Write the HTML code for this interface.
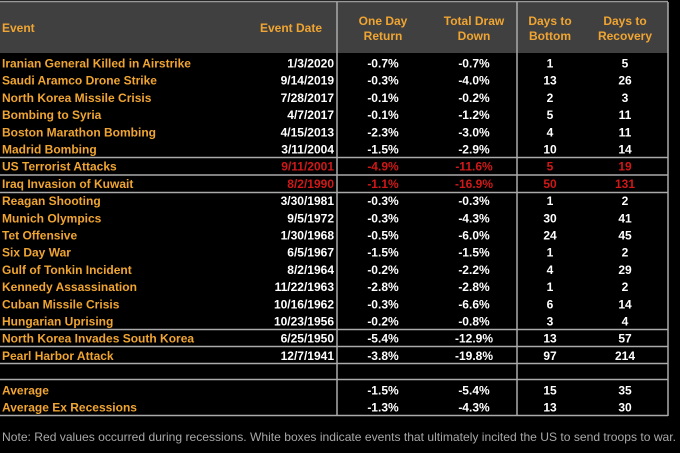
<!DOCTYPE html>
<html><head><meta charset="utf-8"><style>
html,body{margin:0;padding:0;background:#000;}
svg{display:block}
text{font-family:"Liberation Sans",Arial,sans-serif;font-weight:bold;font-size:12px;}
.o{fill:#f0a532}.w{fill:#fff}.r{fill:#d01818}
.n{font-weight:normal;fill:#a8a8a8;font-size:12px}
</style></head><body>
<svg width="680" height="453" viewBox="0 0 680 453" xmlns="http://www.w3.org/2000/svg">
<rect width="680" height="453" fill="#000"/>
<rect x="0" y="2" width="668" height="51" fill="#404040"/>
<line x1="0" y1="1.5" x2="668" y2="1.5" stroke="#999" stroke-width="1.5"/>
<g stroke="#aaa" stroke-width="1.5">
<line x1="337" y1="2" x2="337" y2="416"/>
<line x1="517" y1="2" x2="517" y2="416"/>
<line x1="668" y1="2" x2="668" y2="416"/>
<line x1="0" y1="157.5" x2="668" y2="157.5"/>
<line x1="0" y1="175" x2="668" y2="175"/>
<line x1="0" y1="192.5" x2="668" y2="192.5"/>
<line x1="0" y1="329.5" x2="668" y2="329.5"/>
<line x1="0" y1="346.5" x2="668" y2="346.5"/>
<line x1="0" y1="363.5" x2="668" y2="363.5"/>
<line x1="0" y1="379.5" x2="668" y2="379.5"/>
<line x1="0" y1="415.5" x2="668" y2="415.5"/>
</g>
<text class="o" x="2" y="32">Event</text>
<text class="o" x="322" y="32" text-anchor="end">Event Date</text>
<text class="o" x="383" y="25" text-anchor="middle">One Day</text>
<text class="o" x="383" y="40" text-anchor="middle">Return</text>
<text class="o" x="474" y="25" text-anchor="middle">Total Draw</text>
<text class="o" x="474" y="40" text-anchor="middle">Down</text>
<text class="o" x="550" y="25" text-anchor="middle">Days to</text>
<text class="o" x="550" y="40" text-anchor="middle">Bottom</text>
<text class="o" x="625" y="25" text-anchor="middle">Days to</text>
<text class="o" x="625" y="40" text-anchor="middle">Recovery</text>
<g id="rows"></g>
<text class="n" x="2" y="441" textLength="674" lengthAdjust="spacingAndGlyphs">Note: Red values occurred during recessions. White boxes indicate events that ultimately incited the US to send troops to war.</text>
</svg>
<script>
var d=[["Iranian General Killed in Airstrike","1/3/2020","-0.7%","-0.7%","1","5"],
["Saudi Aramco Drone Strike","9/14/2019","-0.3%","-4.0%","13","26"],
["North Korea Missile Crisis","7/28/2017","-0.1%","-0.2%","2","3"],
["Bombing to Syria","4/7/2017","-0.1%","-1.2%","5","11"],
["Boston Marathon Bombing","4/15/2013","-2.3%","-3.0%","4","11"],
["Madrid Bombing","3/11/2004","-1.5%","-2.9%","10","14"],
["US Terrorist Attacks","9/11/2001","-4.9%","-11.6%","5","19",1],
["Iraq Invasion of Kuwait","8/2/1990","-1.1%","-16.9%","50","131",1],
["Reagan Shooting","3/30/1981","-0.3%","-0.3%","1","2"],
["Munich Olympics","9/5/1972","-0.3%","-4.3%","30","41"],
["Tet Offensive","1/30/1968","-0.5%","-6.0%","24","45"],
["Six Day War","6/5/1967","-1.5%","-1.5%","1","2"],
["Gulf of Tonkin Incident","8/2/1964","-0.2%","-2.2%","4","29"],
["Kennedy Assassination","11/22/1963","-2.8%","-2.8%","1","2"],
["Cuban Missile Crisis","10/16/1962","-0.3%","-6.6%","6","14"],
["Hungarian Uprising","10/23/1956","-0.2%","-0.8%","3","4"],
["North Korea Invades South Korea","6/25/1950","-5.4%","-12.9%","13","57"],
["Pearl Harbor Attack","12/7/1941","-3.8%","-19.8%","97","214"],
null,
["Average","","-1.5%","-5.4%","15","35"],
["Average Ex Recessions","","-1.3%","-4.3%","13","30"]];
var g=document.getElementById("rows"),s="";
d.forEach(function(r,i){if(!r)return;var y=67.5+i*17.2;var c=r[6]?"r":"w";
s+='<text class="o" x="2" y="'+y+'">'+r[0]+'</text>';
s+='<text class="'+c+'" x="334" y="'+y+'" text-anchor="end">'+r[1]+'</text>';
s+='<text class="'+c+'" x="383" y="'+y+'" text-anchor="middle">'+r[2]+'</text>';
s+='<text class="'+c+'" x="474" y="'+y+'" text-anchor="middle">'+r[3]+'</text>';
s+='<text class="'+c+'" x="550" y="'+y+'" text-anchor="middle">'+r[4]+'</text>';
s+='<text class="'+c+'" x="625" y="'+y+'" text-anchor="middle">'+r[5]+'</text>';});
g.innerHTML=s;
</script>
</body></html>
